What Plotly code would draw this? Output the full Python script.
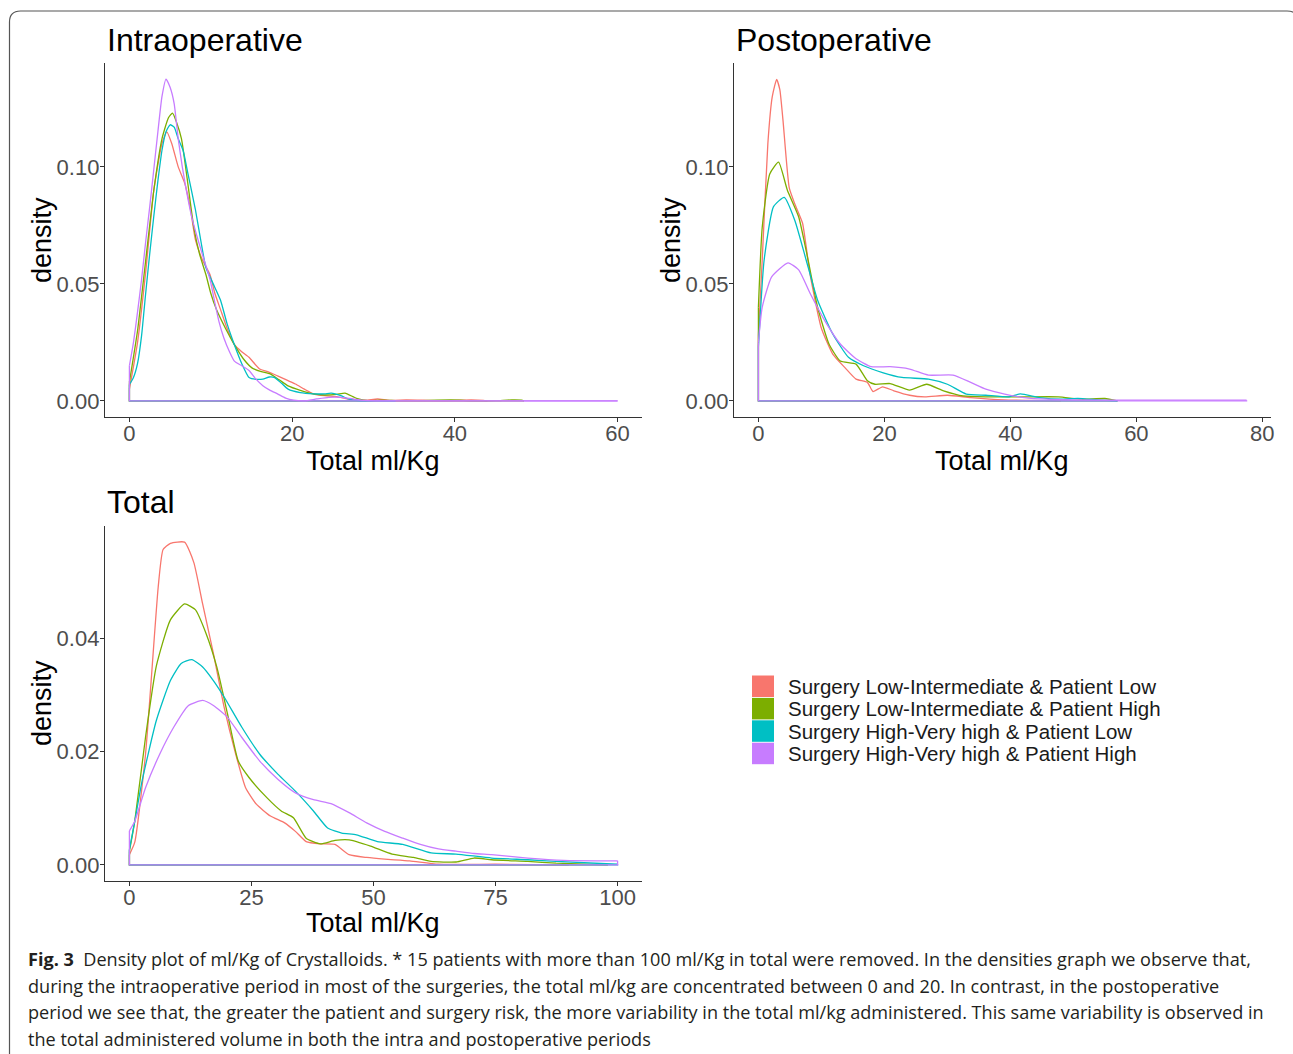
import plotly.graph_objects as go

# ---------------- DATA ----------------
groups = [
    "Surgery Low-Intermediate & Patient Low",
    "Surgery Low-Intermediate & Patient High",
    "Surgery High-Very high & Patient Low",
    "Surgery High-Very high & Patient High",
]
group_colors = ["#F8766D", "#7CAE00", "#00BFC4", "#C77CFF"]

panel_titles = ["Intraoperative", "Postoperative", "Total"]
x_title = "Total ml/Kg"
y_title = "density"

# Intraoperative densities
intra_red_x = [0, 1, 2, 3, 4, 4.6, 5.2, 6, 6.8, 7.5, 8.1, 9, 9.9, 10.5, 11.2, 12, 12.9, 13.8, 14.7, 16, 17, 18.2, 19.3, 20.4, 21.5, 22.6, 24, 25.5, 27, 29, 30.5, 32, 34, 36, 38, 40, 42, 43.5, 44]
intra_red_y = [0.005, 0.025, 0.055, 0.09, 0.11, 0.115, 0.11, 0.10, 0.093, 0.082, 0.069, 0.06, 0.054, 0.046, 0.039, 0.031, 0.024, 0.021, 0.0186, 0.0136, 0.0125, 0.0107, 0.009, 0.0072, 0.005, 0.003, 0.0022, 0.0018, 0.0007, 0.0003, 0.0008, 0.0002, 0.0004, 0.0003, 0.0001, 0.0002, 0.0004, 0.0002, 0.0]

intra_green_x = [0, 1, 2, 3, 4, 4.8, 5.3, 5.8, 6.4, 7.1, 7.9, 8.6, 9.4, 10, 10.7, 11.8, 12.9, 14, 15.1, 16.2, 17.3, 18.4, 19.5, 21, 22.6, 24, 25.5, 26.5, 27.9, 29.6, 31, 33, 36, 39.5, 40.6, 42, 45, 47, 48.2, 48.5]
intra_green_y = [0.008, 0.03, 0.06, 0.09, 0.112, 0.121, 0.123, 0.119, 0.112, 0.095, 0.0745, 0.063, 0.054, 0.046, 0.039, 0.031, 0.024, 0.018, 0.014, 0.0125, 0.0115, 0.009, 0.0064, 0.0045, 0.003, 0.0025, 0.0028, 0.0033, 0.0011, 0.0, 0.0003, 0.0001, 0.0001, 0.0004, 0.0003, 0.0, 0.0001, 0.0004, 0.0003, 0.0]

intra_cyan_x = [0, 0.5, 1, 1.5, 2, 2.5, 3, 3.5, 4, 4.5, 5.0, 5.5, 6, 6.6, 7.2, 8.1, 8.8, 9.4, 10.3, 11.2, 12, 12.9, 13.8, 14.7, 15.6, 16.4, 17.2, 17.8, 18.7, 19.5, 21, 22.6, 24, 24.8, 26, 27, 28.3, 30, 32.7]
intra_cyan_y = [0.007, 0.01, 0.016, 0.028, 0.046, 0.063, 0.079, 0.094, 0.107, 0.115, 0.118, 0.117, 0.112, 0.107, 0.097, 0.082, 0.068, 0.057, 0.05, 0.043, 0.033, 0.024, 0.016, 0.010, 0.0092, 0.0093, 0.0102, 0.010, 0.0075, 0.005, 0.0035, 0.003, 0.003, 0.0033, 0.0022, 0.0007, 0.0, 0.0001, 0.0]

intra_purple_x = [0, 0.5, 1, 1.5, 2, 2.5, 3, 3.5, 4, 4.5, 5, 5.5, 6, 6.5, 7, 7.7, 8.5, 9.2, 9.9, 10.5, 11, 11.6, 12.3, 12.9, 13.8, 14.7, 15.5, 16.4, 17.3, 18.2, 19.2, 20.2, 21.5, 23, 24.5, 26, 27.5, 29, 31, 60]
intra_purple_y = [0.015, 0.025, 0.038, 0.052, 0.068, 0.083, 0.099, 0.115, 0.13, 0.1375, 0.134, 0.127, 0.112, 0.1, 0.09, 0.078, 0.068, 0.06, 0.052, 0.042, 0.034, 0.027, 0.021, 0.017, 0.015, 0.013, 0.0095, 0.0065, 0.0045, 0.003, 0.0012, 0.0003, 0.0, 0.0008, 0.0015, 0.0015, 0.0008, 0.0002, 0.0, 0.0]

# Postoperative densities
post_red_x = [0, 0.6, 1.5, 2.2, 2.9, 3.4, 3.9, 4.9, 5.8, 7.0, 8.2, 10, 11.8, 13.7, 15.5, 17.3, 18.2, 19.7, 21.5, 24, 26.4, 30, 33.7, 39, 43, 48]
post_red_y = [0.028, 0.06, 0.11, 0.13, 0.1374, 0.133, 0.12, 0.091, 0.084, 0.076, 0.054, 0.031, 0.02, 0.0143, 0.0093, 0.0079, 0.004, 0.006, 0.0043, 0.0024, 0.0017, 0.0024, 0.0014, 0.0004, 0.0002, 0.0]

post_green_x = [0, 0.6, 1.8, 3.2, 4.6, 6.4, 7.9, 9.4, 11.2, 13, 15.5, 17.3, 18.5, 20.9, 24, 26.7, 29.4, 32.5, 36.1, 42.2, 47.6, 51.3, 55, 57]
post_green_y = [0.04, 0.074, 0.097, 0.102, 0.09, 0.0786, 0.06, 0.04, 0.0243, 0.017, 0.0157, 0.0086, 0.0071, 0.0074, 0.0046, 0.0071, 0.0043, 0.0021, 0.0017, 0.0017, 0.0017, 0.0007, 0.001, 0.0]

post_cyan_x = [0, 0.9, 2.4, 4.1, 5.8, 7.6, 9.4, 11.8, 14.3, 16.7, 19.7, 22.8, 27, 30, 33, 36.1, 39.8, 41.6, 44.6, 48.2, 50.7, 54.3, 57]
post_cyan_y = [0.023, 0.06, 0.083, 0.087, 0.077, 0.06, 0.043, 0.0286, 0.0186, 0.015, 0.0121, 0.01, 0.0093, 0.0071, 0.0029, 0.0024, 0.0017, 0.003, 0.0014, 0.0007, 0.0011, 0.0003, 0.0]

post_purple_x = [0, 0.6, 2.1, 4.7, 6.4, 8.2, 10.6, 13, 15.5, 17.9, 20.9, 24, 27, 30.9, 33.7, 36.1, 39.1, 42.2, 45.8, 55, 65, 77.5]
post_purple_y = [0.025, 0.04, 0.053, 0.059, 0.056, 0.046, 0.034, 0.0243, 0.018, 0.0146, 0.0146, 0.0136, 0.011, 0.011, 0.0079, 0.005, 0.0029, 0.0014, 0.0007, 0.0003, 0.0003, 0.0003]

# Total densities
tot_red_x = [0, 1.1, 3.3, 5.9, 6.9, 8.4, 11.3, 13.2, 15, 17.2, 19.4, 21.6, 23.8, 26, 28.9, 31.8, 34, 36.2, 39.1, 42.1, 45, 48.6, 52.3, 57.4, 63.3, 75, 90]
tot_red_y = [0.0018, 0.004, 0.0195, 0.049, 0.0556, 0.0567, 0.0569, 0.0533, 0.046, 0.0373, 0.0278, 0.0201, 0.0136, 0.0107, 0.0086, 0.0074, 0.0059, 0.0041, 0.0037, 0.0036, 0.0018, 0.0013, 0.001, 0.0007, 0.0001, 0.0001, 0.0]

tot_green_x = [0, 1.1, 3.3, 5.5, 8.4, 11.3, 13.5, 15.7, 17.9, 20.1, 22.3, 24.5, 28.2, 31.1, 33.6, 36.2, 39.1, 42.1, 45, 49.4, 53.8, 58.2, 61.8, 66.9, 70.6, 74.2, 81.6, 87.4, 98]
tot_green_y = [0.0024, 0.0077, 0.0225, 0.035, 0.0432, 0.046, 0.045, 0.0408, 0.0349, 0.0266, 0.0183, 0.0154, 0.0118, 0.0095, 0.0083, 0.0047, 0.0037, 0.0043, 0.0044, 0.0033, 0.0019, 0.0013, 0.0006, 0.0005, 0.0012, 0.0009, 0.0006, 0.0003, 0.0]

tot_cyan_x = [0, 1.1, 2.6, 5.5, 8.4, 10.6, 12.8, 15, 17.2, 19.4, 23, 26.7, 30.4, 34, 37.7, 40.6, 43.5, 46.5, 50.8, 56, 61.8, 66.9, 74.2, 81.6, 87.4, 100]
tot_cyan_y = [0.0027, 0.0077, 0.0148, 0.0254, 0.0325, 0.0355, 0.0362, 0.0349, 0.0325, 0.0296, 0.0243, 0.0195, 0.016, 0.013, 0.0095, 0.0065, 0.0056, 0.0053, 0.0041, 0.0036, 0.0021, 0.0019, 0.0012, 0.0009, 0.0006, 0.0001]

tot_purple_x = [0, 1.1, 3.3, 6.2, 9.1, 12.1, 15, 17.2, 20.1, 23, 26.7, 30.4, 34, 37.7, 41.3, 45, 48.6, 52.3, 56, 59.6, 63.3, 66.9, 70.6, 74.2, 81.6, 88.9, 100]
tot_purple_y = [0.006, 0.0077, 0.0136, 0.0195, 0.0243, 0.0281, 0.029, 0.0281, 0.026, 0.0225, 0.0183, 0.0151, 0.0127, 0.0115, 0.0108, 0.0092, 0.0074, 0.0059, 0.0047, 0.0036, 0.0028, 0.0024, 0.002, 0.0018, 0.0012, 0.0008, 0.0007]

intra_xticks = [0, 20, 40, 60]
post_xticks = [0, 20, 40, 60, 80]
tot_xticks = [0, 25, 50, 75, 100]
intra_yticks = [0.0, 0.05, 0.10]
intra_yticklabels = ["0.00", "0.05", "0.10"]
tot_yticks = [0.0, 0.02, 0.04]
tot_yticklabels = ["0.00", "0.02", "0.04"]

caption_bold = "Fig. 3"
caption_lines = [
    "Density plot of ml/Kg of Crystalloids. * 15 patients with more than 100 ml/Kg in total were removed. In the densities graph we observe that,",
    "during the intraoperative period in most of the surgeries, the total ml/kg are concentrated between 0 and 20. In contrast, in the postoperative",
    "period we see that, the greater the patient and surgery risk, the more variability in the total ml/kg administered. This same variability is observed in",
    "the total administered volume in both the intra and postoperative periods",
]

# ---------------- FIGURE ----------------
W, H = 1293, 1054
def px(x):
    return x / W
def py(y):
    return 1 - y / H

FONT = "Liberation Sans, Arial, sans-serif"
fig = go.Figure()

panels = [
    ("x", "y", [(intra_red_x, intra_red_y), (intra_green_x, intra_green_y), (intra_cyan_x, intra_cyan_y), (intra_purple_x, intra_purple_y)]),
    ("x2", "y2", [(post_red_x, post_red_y), (post_green_x, post_green_y), (post_cyan_x, post_cyan_y), (post_purple_x, post_purple_y)]),
    ("x3", "y3", [(tot_red_x, tot_red_y), (tot_green_x, tot_green_y), (tot_cyan_x, tot_cyan_y), (tot_purple_x, tot_purple_y)]),
]
for xa, ya, series in panels:
    for (xs, ys), name, col in zip(series, groups, group_colors):
        # density curve (smoothed)
        fig.add_trace(go.Scatter(x=xs, y=ys, mode="lines", name=name,
                                 line=dict(color=col, width=1.3, shape="spline", smoothing=0.5),
                                 xaxis=xa, yaxis=ya, showlegend=False,
                                 hoverinfo="skip"))
        # closing edges and baseline, as in ggplot2 geom_density outline
        fig.add_trace(go.Scatter(x=[xs[0], xs[0], xs[-1], xs[-1]],
                                 y=[ys[0], 0, 0, ys[-1]], mode="lines", name=name,
                                 line=dict(color=col, width=1.3),
                                 xaxis=xa, yaxis=ya, showlegend=False,
                                 hoverinfo="skip"))

axis_common = dict(showline=True, linecolor="#333333", linewidth=1.3,
                   ticks="outside", ticklen=4, tickcolor="#333333", tickwidth=1.3,
                   showgrid=False, zeroline=False,
                   tickfont=dict(family=FONT, size=22, color="#4D4D4D"))
xaxis_common = dict(axis_common, ticklabelstandoff=-8)
yaxis_common = dict(axis_common, ticklabelstandoff=-4)

# pixel layouts of panels
intra_dom_x = [px(105), px(642)]
intra_dom_y = [py(417), py(63)]
post_dom_x = [px(734), px(1271)]
tot_dom_x = [px(105), px(642)]
tot_dom_y = [py(881), py(526)]

fig.update_layout(
    width=W, height=H, autosize=False,
    margin=dict(l=0, r=0, t=0, b=0),
    paper_bgcolor="white", plot_bgcolor="white",
    template="none",
    showlegend=False,
    xaxis=dict(domain=intra_dom_x, range=[-3, 63], tickvals=intra_xticks, anchor="y", **xaxis_common),
    yaxis=dict(domain=intra_dom_y, range=[-0.0069, 0.1444], tickvals=intra_yticks, ticktext=intra_yticklabels, anchor="x", **yaxis_common),
    xaxis2=dict(domain=post_dom_x, range=[-3.875, 81.375], tickvals=post_xticks, anchor="y2", **xaxis_common),
    yaxis2=dict(domain=intra_dom_y, range=[-0.0069, 0.1444], tickvals=intra_yticks, ticktext=intra_yticklabels, anchor="x2", **yaxis_common),
    xaxis3=dict(domain=tot_dom_x, range=[-5, 105], tickvals=tot_xticks, anchor="y3", **xaxis_common),
    yaxis3=dict(domain=tot_dom_y, range=[-0.00285, 0.05975], tickvals=tot_yticks, ticktext=tot_yticklabels, anchor="x3", **yaxis_common),
)

ann = []
# panel titles
for t, (x0, y0) in zip(panel_titles, [(105, 40), (734, 40), (105, 502)]):
    ann.append(dict(text=t, x=px(x0), y=py(y0), xref="paper", yref="paper",
                    xanchor="left", yanchor="middle", showarrow=False,
                    font=dict(family=FONT, size=32, color="black")))
# axis titles
for (x0, y0) in [(373, 461), (1002, 461), (373, 923)]:
    ann.append(dict(text=x_title, x=px(x0), y=py(y0), xref="paper", yref="paper",
                    xanchor="center", yanchor="middle", showarrow=False,
                    font=dict(family=FONT, size=27, color="black")))
for (x0, y0) in [(42, 240), (671, 240), (42, 703)]:
    ann.append(dict(text=y_title, x=px(x0), y=py(y0), xref="paper", yref="paper",
                    xanchor="center", yanchor="middle", showarrow=False, textangle=-90,
                    font=dict(family=FONT, size=27, color="black")))

# manual legend (filled keys like ggplot)
shapes = []
for i, (name, col) in enumerate(zip(groups, group_colors)):
    top = 675.5 + i * 22.4
    shapes.append(dict(type="rect", xref="paper", yref="paper",
                       x0=px(752), x1=px(774), y0=py(top + 21.5), y1=py(top),
                       fillcolor=col, line=dict(width=0)))
    ann.append(dict(text=name, x=px(786), y=py(top + 11), xref="paper", yref="paper",
                    xanchor="left", yanchor="middle", showarrow=False,
                    font=dict(family=FONT, size=20.5, color="#1a1a1a")))

# caption
CAP_FONT = "Open Sans, Noto Sans, sans-serif"
cap_y = [959, 986, 1012, 1039]
for i, (line, yy) in enumerate(zip(caption_lines, cap_y)):
    txt = ("<b>" + caption_bold + "</b>  " + line) if i == 0 else line
    ann.append(dict(text=txt, x=px(26), y=py(yy), xref="paper", yref="paper",
                    xanchor="left", yanchor="middle", showarrow=False,
                    font=dict(family=CAP_FONT, size=18.1, color="#231f20")))

# rounded figure border
bx0, by0, bx1, by1, r = 9.5, 11, 1298, 1075, 11
path = (f"M {px(bx0)},{py(by1)} L {px(bx0)},{py(by0 + r)} "
        f"Q {px(bx0)},{py(by0)} {px(bx0 + r)},{py(by0)} "
        f"L {px(bx1 - r)},{py(by0)} Q {px(bx1)},{py(by0)} {px(bx1)},{py(by0 + r)} "
        f"L {px(bx1)},{py(by1)}")
shapes.append(dict(type="path", path=path, xref="paper", yref="paper",
                   line=dict(color="#555555", width=1.2)))

fig.update_layout(annotations=ann, shapes=shapes)
fig.write_html("out.html", config={"displayModeBar": False},
               post_script="document.body.style.margin='0';document.body.style.overflow='hidden';")
